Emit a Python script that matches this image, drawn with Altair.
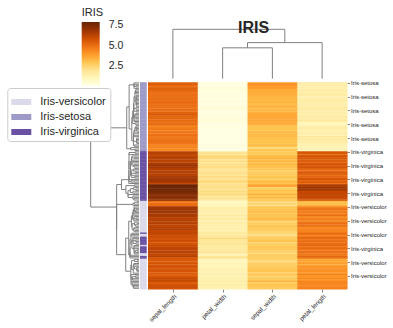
import json
import altair as alt
import numpy as np
import pandas as pd

# ---------------- data (rows in the order shown, top to bottom) ----------------
COLUMNS = ["sepal_length", "petal_width", "sepal_width", "petal_length"]

SEPAL_LENGTH = [
    5.4, 5.5, 5.2, 5.1, 5.4, 5.3, 5.1, 5.0, 5.1, 5.0,
    5.0, 5.1, 5.0, 5.0, 5.1, 5.0, 5.1, 4.9, 5.0, 5.1,
    5.0, 5.2, 5.4, 5.5, 5.4, 5.1, 5.3, 5.1, 5.1, 5.2,
    5.0, 4.7, 4.6, 4.7, 4.8, 4.6, 4.9, 4.8, 5.0, 4.8,
    4.9, 4.8, 5.0, 4.9, 4.8, 4.6, 4.4, 4.5, 4.4, 4.3,
    6.3, 6.4, 6.2, 6.3, 6.4, 6.3, 6.4, 6.2, 6.5, 6.7,
    6.9, 6.8, 6.4, 6.5, 6.3, 6.4, 6.5, 6.3, 6.7, 6.8,
    6.7, 6.9, 6.7, 6.1, 7.7, 7.9, 7.7, 7.7, 7.6, 7.7,
    7.4, 7.2, 7.3, 7.2, 7.1, 7.2, 5.0, 4.9, 5.1, 5.0,
    6.7, 6.8, 6.9, 7.0, 6.7, 6.6, 6.7, 6.6, 6.4, 6.3,
    6.4, 6.3, 6.4, 6.3, 6.2, 6.4, 6.5, 6.1, 6.1, 6.3,
    6.0, 6.1, 5.8, 5.8, 6.0, 5.9, 5.7, 5.8, 6.0, 6.1,
    6.3, 6.2, 6.3, 6.3, 6.3, 6.1, 6.4, 5.6, 5.7, 5.5,
    5.5, 5.8, 5.6, 5.8, 5.7, 5.6, 5.7, 5.7, 5.5, 5.4,
    5.6, 5.8, 6.0, 6.1, 6.0, 5.5, 5.6, 5.9, 6.1, 5.7,
]
SEPAL_WIDTH = [
    3.9, 4.2, 4.1, 4.0, 3.9, 3.6, 3.6, 3.5, 3.7, 3.4,
    3.4, 3.4, 3.3, 3.3, 3.4, 3.2, 3.3, 3.4, 3.4, 3.2,
    3.3, 3.4, 3.6, 3.7, 3.8, 3.6, 3.7, 3.7, 3.6, 3.7,
    3.5, 3.1, 3.0, 3.1, 3.0, 3.1, 3.3, 3.3, 3.2, 3.3,
    3.1, 3.1, 3.0, 3.1, 3.0, 3.3, 3.0, 2.3, 2.9, 3.0,
    2.9, 2.8, 2.8, 3.3, 3.2, 3.4, 3.1, 3.4, 3.0, 3.3,
    3.1, 3.2, 2.7, 3.0, 2.5, 2.8, 3.0, 2.7, 3.0, 3.0,
    2.5, 3.1, 3.3, 3.0, 3.8, 3.8, 2.6, 2.8, 3.0, 3.0,
    2.8, 3.6, 2.9, 3.2, 3.0, 3.0, 2.3, 2.4, 2.5, 2.0,
    3.1, 2.8, 3.1, 3.2, 3.1, 2.9, 3.0, 3.0, 3.2, 3.3,
    2.9, 2.5, 2.8, 2.9, 2.9, 2.9, 2.8, 2.8, 2.5, 2.5,
    2.2, 2.3, 2.7, 2.8, 3.0, 3.0, 2.5, 2.7, 2.7, 3.0,
    2.8, 2.8, 2.7, 2.5, 2.5, 2.8, 2.7, 2.8, 2.6, 2.4,
    2.4, 2.7, 2.9, 2.7, 2.8, 3.0, 2.9, 3.0, 2.5, 3.0,
    2.7, 2.6, 2.9, 2.8, 3.4, 2.6, 3.0, 3.0, 3.0, 2.8,
]
PETAL_LENGTH = [
    1.7, 1.4, 1.5, 1.5, 1.3, 1.5, 1.5, 1.4, 1.6, 1.6,
    1.3, 1.4, 1.5, 1.6, 1.4, 1.4, 1.5, 1.4, 1.6, 1.7,
    1.5, 1.5, 1.5, 1.3, 1.7, 1.5, 1.5, 1.9, 1.5, 1.2,
    1.0, 1.3, 1.5, 1.6, 1.4, 1.4, 1.5, 1.6, 1.2, 1.9,
    1.5, 1.6, 1.6, 1.5, 1.4, 1.4, 1.3, 1.3, 1.4, 1.1,
    5.6, 5.6, 4.8, 6.0, 5.3, 5.6, 5.5, 5.4, 5.5, 5.7,
    5.4, 5.9, 5.3, 5.2, 5.0, 5.6, 5.8, 4.9, 5.2, 5.5,
    5.8, 5.1, 5.7, 4.9, 6.7, 6.4, 6.9, 6.7, 6.6, 6.1,
    6.1, 6.1, 6.3, 6.0, 5.9, 5.8, 3.3, 3.3, 3.0, 3.5,
    4.4, 4.8, 4.9, 4.7, 4.7, 4.6, 5.0, 4.4, 4.5, 4.7,
    4.3, 4.9, 5.0, 5.0, 4.8, 4.3, 4.6, 4.4, 4.5, 5.0,
    5.0, 4.4, 5.1, 5.1, 4.8, 5.1, 5.0, 5.1, 5.1, 4.9,
    5.1, 4.8, 4.9, 5.0, 4.9, 4.7, 5.3, 4.9, 3.5, 3.8,
    3.7, 3.9, 3.6, 4.1, 4.1, 4.1, 4.2, 4.2, 4.0, 4.5,
    4.2, 4.0, 4.5, 4.0, 4.5, 4.4, 4.5, 4.2, 4.6, 4.5,
]
PETAL_WIDTH = [
    0.4, 0.2, 0.1, 0.3, 0.4, 0.2, 0.4, 0.2, 0.2, 0.3,
    0.3, 0.2, 0.2, 0.4, 0.3, 0.2, 0.2, 0.2, 0.6, 0.5,
    0.2, 0.2, 0.2, 0.2, 0.2, 0.4, 0.3, 0.4, 0.4, 0.2,
    0.2, 0.2, 0.2, 0.2, 0.1, 0.2, 0.2, 0.2, 0.2, 0.2,
    0.1, 0.2, 0.2, 0.1, 0.1, 0.3, 0.2, 0.3, 0.2, 0.1,
    1.8, 2.1, 1.8, 2.5, 2.3, 2.4, 1.8, 2.3, 1.8, 2.1,
    2.1, 2.3, 1.9, 2.0, 1.9, 2.2, 2.2, 1.8, 2.3, 2.1,
    1.8, 2.3, 2.5, 1.8, 2.2, 2.0, 2.3, 2.0, 2.1, 2.3,
    1.9, 2.5, 1.8, 1.8, 2.1, 1.6, 1.0, 1.0, 1.1, 1.0,
    1.4, 1.4, 1.5, 1.4, 1.5, 1.3, 1.7, 1.4, 1.5, 1.6,
    1.3, 1.5, 1.5, 1.5, 1.4, 1.3, 1.5, 1.3, 1.4, 1.9,
    1.5, 1.8, 1.9, 2.4, 1.8, 1.8, 2.0, 1.9, 1.6, 1.8,
    1.5, 1.8, 1.8, 1.9, 1.5, 1.2, 1.9, 2.0, 1.0, 1.1,
    1.0, 1.2, 1.3, 1.0, 1.3, 1.3, 1.3, 1.2, 1.3, 1.5,
    1.3, 1.2, 1.5, 1.3, 1.6, 1.2, 1.5, 1.5, 1.4, 1.3,
]
# one letter per row: s = setosa, v = versicolor, g = virginica
SPECIES_CODES = (
    "ssssssssss" "ssssssssss" "ssssssssss" "ssssssssss" "ssssssssss"
    "gggggggggg" "gggggggggg" "gggggggggg" "ggggggvvvv" "vvvvvvvvvv"
    "vvvvvvvvvg" "vvggggggvg" "ggggvvggvv" "vvvvvvvvvv" "vvvvvvvvvv"
)
SPECIES_NAMES = {"s": "Iris-setosa", "v": "Iris-versicolor", "g": "Iris-virginica"}
LEGEND_ORDER = ["Iris-versicolor", "Iris-setosa", "Iris-virginica"]
SPECIES_COLORS = ["#dadaeb", "#9e9ac8", "#6a51a3"]
# matplotlib "YlOrBr" colour stops
YLORBR = ["#ffffe5", "#fff7bc", "#fee391", "#fec44f", "#fe9929",
          "#ec7014", "#cc4c02", "#993404", "#662506"]
CBAR_TICKS = [2.5, 5.0, 7.5]
TITLE = "IRIS"

# ---------------- layout (pixels) ----------------
W, H = 393, 328
PLOT_LEFT, PLOT_TOP, PLOT_W, PLOT_H = 85, 25, 262, 264
HEAT_LEFT, HEAT_TOP = 148.0, 82.2
HEAT_RIGHT, HEAT_BOTTOM = PLOT_LEFT + PLOT_W, PLOT_TOP + PLOT_H
N_ROWS, N_COLS = len(SEPAL_LENGTH), len(COLUMNS)
COL_PX = (HEAT_RIGHT - HEAT_LEFT) / N_COLS
ROW_PX = (HEAT_BOTTOM - HEAT_TOP) / N_ROWS


def to_x(px):
    return (px - HEAT_LEFT) / COL_PX


def to_y(py):
    return (py - HEAT_TOP) / ROW_PX


X_DOMAIN = [to_x(PLOT_LEFT), N_COLS]
Y_DOMAIN = [to_y(PLOT_TOP), N_ROWS]
ROW_DEND_LEAF, ROW_DEND_ROOT = to_x(139.0), to_x(90.7)
COL_DEND_LEAF, COL_DEND_ROOT = to_y(78.7), to_y(29.3)
STRIP_X0, STRIP_X1 = to_x(140.0), to_x(146.7)
TITLE_X, TITLE_Y = to_x(253.5), to_y(33.3)
SEAM = 0.3  # slight overlap between neighbouring cells to hide anti-alias seams

# ---------------- tables ----------------
values = np.array([SEPAL_LENGTH, PETAL_WIDTH, SEPAL_WIDTH, PETAL_LENGTH]).T
species = [SPECIES_NAMES[c] for c in SPECIES_CODES]

cells = []
for r in range(N_ROWS):
    for c in range(N_COLS):
        cells.append({"x0": c, "x1": c + 1.01, "y0": r, "y1": r + 1 + SEAM,
                      "value": float(values[r, c]), "column": COLUMNS[c]})
cells = pd.DataFrame(cells)
strip = pd.DataFrame({"y0": np.arange(N_ROWS), "y1": np.arange(N_ROWS) + 1 + SEAM,
                      "species": species})


def ordered_average_linkage(points):
    pts = np.asarray(points, float)
    dist = np.sqrt(((pts[:, None, :] - pts[None, :, :]) ** 2).sum(-1))
    clusters = [([i], i + 0.5, 0.0) for i in range(len(pts))]
    links = []
    while len(clusters) > 1:
        best_k, best_d = 0, np.inf
        for k in range(len(clusters) - 1):
            d = dist[np.ix_(clusters[k][0], clusters[k + 1][0])].mean()
            if d < best_d:
                best_k, best_d = k, d
        (ma, pa, ha), (mb, pb, hb) = clusters[best_k], clusters[best_k + 1]
        h = max(best_d, ha, hb)
        links.append((pa, ha, pb, hb, h))
        clusters[best_k:best_k + 2] = [(ma + mb, (pa + pb) / 2, h)]
    return links


def segments(links):
    hmax = max(l[4] for l in links)
    segs = []
    for pa, ha, pb, hb, h in links:
        segs += [(pa, ha / hmax, pa, h / hmax), (pb, hb / hmax, pb, h / hmax),
                 (pa, h / hmax, pb, h / hmax)]
    return segs


row_segs = segments(ordered_average_linkage(values))
row_dend = pd.DataFrame([{
    "x0": ROW_DEND_LEAF + f1 * (ROW_DEND_ROOT - ROW_DEND_LEAF),
    "x1": ROW_DEND_LEAF + f2 * (ROW_DEND_ROOT - ROW_DEND_LEAF),
    "y0": p1, "y1": p2} for p1, f1, p2, f2 in row_segs])
col_segs = segments(ordered_average_linkage(values.T))
col_dend = pd.DataFrame([{
    "x0": p1, "x1": p2,
    "y0": COL_DEND_LEAF + f1 * (COL_DEND_ROOT - COL_DEND_LEAF),
    "y1": COL_DEND_LEAF + f2 * (COL_DEND_ROOT - COL_DEND_LEAF)} for p1, f1, p2, f2 in col_segs])

# ---------------- chart ----------------
FONT = "Liberation Sans"
xscale = alt.Scale(domain=X_DOMAIN, nice=False, zero=False)
yscale = alt.Scale(domain=Y_DOMAIN, nice=False, zero=False, reverse=True)

row_labels = [species[i] for i in range(0, N_ROWS, 10)]
x_axis = alt.Axis(values=[c + 0.5 for c in range(N_COLS)], title=None, grid=False, domain=False,
                  labelExpr=f"{json.dumps(COLUMNS)}[floor(datum.value)]",
                  labelAngle=-45, labelAlign="right", labelBaseline="top",
                  labelFontSize=6.3, labelFont=FONT, labelColor="#262626", labelPadding=1,
                  tickSize=3, tickColor="#666666", tickWidth=0.8, labelFlush=False,
                  labelOverlap=False)
y_axis = alt.Axis(orient="right", values=[i + 0.5 for i in range(0, N_ROWS, 10)], title=None,
                  grid=False, domain=False,
                  labelExpr=f"{json.dumps(row_labels)}[floor(datum.value / 10)]",
                  labelFontSize=6, labelFont=FONT, labelColor="#262626", labelPadding=1,
                  tickSize=2.5, tickColor="#666666", tickWidth=0.8, labelFlush=False,
                  labelOverlap=False)

vmin, vmax = float(values.min()), float(values.max())
color_stops = list(np.linspace(vmin, vmax, len(YLORBR)))

heat = alt.Chart(cells).mark_rect().encode(
    x=alt.X("x0:Q", scale=xscale, axis=x_axis),
    x2="x1:Q",
    y=alt.Y("y0:Q", scale=yscale, axis=y_axis),
    y2="y1:Q",
    color=alt.Color("value:Q", scale=alt.Scale(domain=color_stops, range=YLORBR,
                                               interpolate="rgb"),
                    legend=alt.Legend(orient="none", legendX=-3.3, legendY=-18, direction="vertical",
                                      title=TITLE, titleFont=FONT, titleFontSize=11,
                                      titleFontWeight="normal", titleColor="#262626",
                                      titlePadding=4, gradientLength=64, gradientThickness=18,
                                      gradientStrokeWidth=0, values=CBAR_TICKS, format=".1f",
                                      labelFont=FONT, labelFontSize=10.5, labelColor="#262626",
                                      labelOffset=9)),
)

strip_layer = alt.Chart(strip).mark_rect().encode(
    x=alt.datum(STRIP_X0, scale=xscale, axis=x_axis),
    x2=alt.datum(STRIP_X1),
    y=alt.Y("y0:Q", scale=yscale, axis=y_axis),
    y2="y1:Q",
    color=alt.Color("species:N", scale=alt.Scale(domain=LEGEND_ORDER, range=SPECIES_COLORS),
                    legend=alt.Legend(orient="none", legendX=-77.7, legendY=63, title=None,
                                      symbolType="M-1,-0.3H1V0.3H-1Z", symbolSize=400,
                                      symbolStrokeWidth=0, symbolOpacity=1,
                                      labelFont=FONT, labelFontSize=11, labelColor="#262626",
                                      labelOffset=9, padding=4, rowPadding=0,
                                      strokeColor="#cccccc", fillColor="white", cornerRadius=3)),
)

row_dend_layer = alt.Chart(row_dend).mark_rule(color="#808080", strokeWidth=1).encode(
    x=alt.X("x0:Q", scale=xscale, axis=x_axis), x2="x1:Q",
    y=alt.Y("y0:Q", scale=yscale, axis=y_axis), y2="y1:Q",
)
col_dend_layer = alt.Chart(col_dend).mark_rule(color="#808080", strokeWidth=1).encode(
    x=alt.X("x0:Q", scale=xscale, axis=x_axis), x2="x1:Q",
    y=alt.Y("y0:Q", scale=yscale, axis=y_axis), y2="y1:Q",
)
title_layer = alt.Chart(pd.DataFrame({"label": [TITLE]})).mark_text(
    font=FONT, fontSize=16, fontWeight="bold", color="#262626",
    align="center", baseline="alphabetic",
).encode(
    x=alt.datum(TITLE_X, scale=xscale, axis=x_axis),
    y=alt.datum(TITLE_Y, scale=yscale, axis=y_axis),
    text="label:N",
)

chart = alt.layer(heat, strip_layer, row_dend_layer, col_dend_layer, title_layer).resolve_scale(
    color="independent"
).properties(
    width=PLOT_W, height=PLOT_H,
    autosize=alt.AutoSizeParams(type="none"),
    padding={"left": PLOT_LEFT, "top": PLOT_TOP, "right": W - PLOT_LEFT - PLOT_W,
             "bottom": H - PLOT_TOP - PLOT_H},
    background="white",
).configure_view(stroke=None)

chart.save("out.html", embed_options={"renderer": "svg", "actions": False})
